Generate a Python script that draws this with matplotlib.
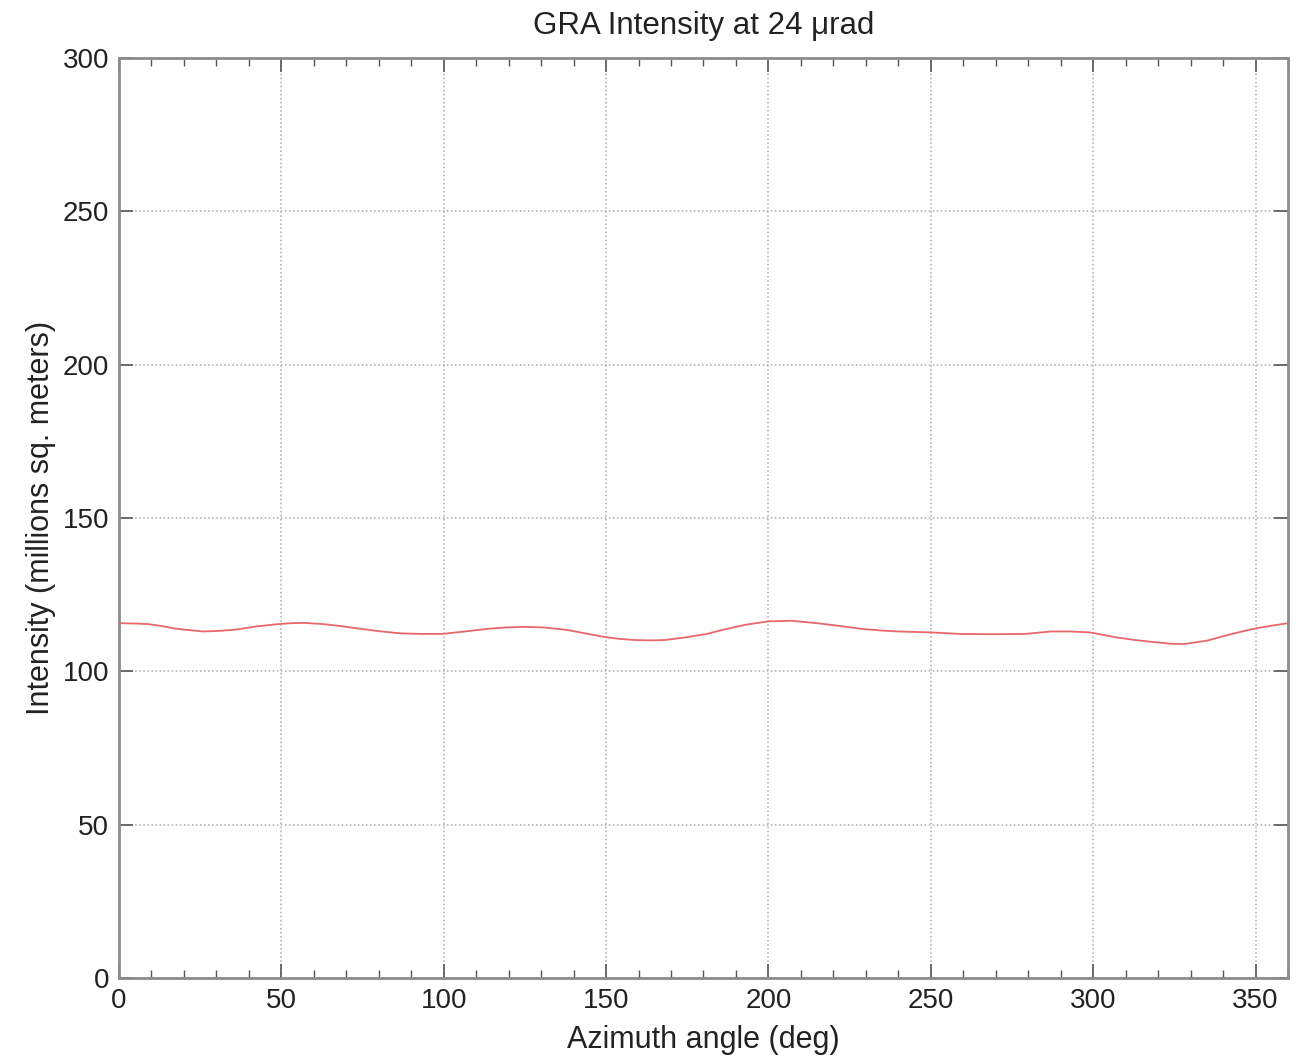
import numpy as np
import matplotlib.pyplot as plt
import matplotlib as mpl
from matplotlib.ticker import MultipleLocator

font = {'family': ['Liberation Sans', 'DejaVu Sans'],
        'size': 20}
mpl.rc('font', **font)

# azimuth (deg) and intensity (millions sq. meters)
azimuth = [0, 5, 9, 13, 17, 21, 26, 31, 36, 42, 49, 53, 57, 63, 68, 73.5,
           80, 86.5, 93, 99.5, 104, 109, 114, 119, 125, 131, 138, 143, 149,
           154, 159, 164, 168, 174, 181, 187, 193, 200, 207, 215, 222, 229,
           235, 240, 250, 259, 269, 279, 287, 293, 299, 307, 313, 319, 324,
           328, 335, 342, 349, 355, 360]
intensity = [115.7, 115.6, 115.4, 114.8, 114.0, 113.5, 113.0, 113.2, 113.6,
             114.6, 115.4, 115.7, 115.8, 115.4, 114.8, 114.0, 113.1, 112.4,
             112.2, 112.2, 112.7, 113.3, 113.9, 114.3, 114.5, 114.3, 113.5,
             112.5, 111.3, 110.6, 110.2, 110.1, 110.2, 111.0, 112.2, 113.8,
             115.2, 116.3, 116.5, 115.7, 114.8, 113.8, 113.3, 113.0, 112.7,
             112.2, 112.1, 112.2, 113.0, 113.0, 112.7, 111.1, 110.2, 109.5,
             109.0, 108.9, 110.0, 112.0, 113.8, 114.9, 115.7]

fig = plt.figure(figsize=(13, 10.56), dpi=100)
ax = fig.add_axes([0.0915, 0.0739, 0.8993, 0.8711])

ax.plot(azimuth, intensity, color='#e8676a', linewidth=1.3)

ax.set_xlim(0, 360)
ax.set_ylim(0, 300)
ax.xaxis.set_major_locator(MultipleLocator(50))
ax.xaxis.set_minor_locator(MultipleLocator(10))
ax.yaxis.set_major_locator(MultipleLocator(50))

ax.tick_params(which='both', direction='in', top=True, right=True,
               color='#555555', labelcolor='#222222')
ax.tick_params(which='major', length=10, width=1.2, pad=7)
ax.tick_params(which='minor', length=6, width=1.0)

for s in ax.spines.values():
    s.set_color('#8c8c8c')
    s.set_linewidth(2)

ax.grid(True, which='major', linestyle=':', color='#aaaaaa', linewidth=1.1)

ax.set_title('GRA Intensity at 24 \u03bcrad', fontsize=22.5, pad=17, color='#222222')
ax.set_xlabel('Azimuth angle (deg)', fontsize=22, labelpad=8, color='#222222')
ax.set_ylabel('Intensity (millions sq. meters)', fontsize=22, labelpad=5,
              color='#222222')

fig.savefig('out.png', dpi=100)
